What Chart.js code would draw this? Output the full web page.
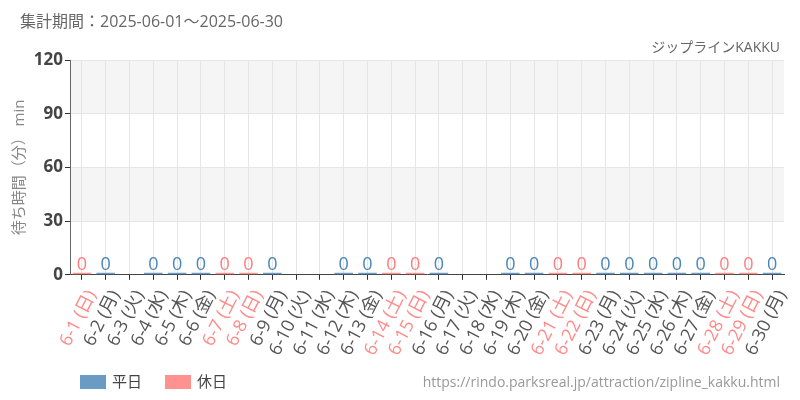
<!DOCTYPE html>
<html>
<head>
<meta charset="utf-8">
<script src="https://cdn.jsdelivr.net/npm/chart.js@4"></script>
<style>
  html,body{margin:0;padding:0;background:#fff;}
  #wrap{width:800px;height:400px;position:relative;}
</style>
</head>
<body>
<div id="wrap"><canvas id="chart" width="800" height="400"></canvas></div>
<script>
const FONT = '"Open Sans","Noto Sans CJK JP",sans-serif';

// data
const days = ['6-1','6-2','6-3','6-4','6-5','6-6','6-7','6-8','6-9','6-10',
  '6-11','6-12','6-13','6-14','6-15','6-16','6-17','6-18','6-19','6-20',
  '6-21','6-22','6-23','6-24','6-25','6-26','6-27','6-28','6-29','6-30'];
const dow = ['日','月','火','水','木','金','土','日','月','火',
  '水','木','金','土','日','月','火','水','木','金',
  '土','日','月','火','水','木','金','土','日','月'];
const holiday = [1,0,0,0,0,0,1,1,0,0, 0,0,0,1,1,0,0,0,0,0, 1,1,0,0,0,0,0,1,1,0];
const waitMin = [0,0,null,0,0,0,0,0,0,null, null,0,0,0,0,0,null,null,0,0, 0,0,0,0,0,0,0,0,0,0];
const yTicks = [0,30,60,90,120];

const BLUE = '#6a9bc4', PINK = '#ff9191';
const BLUE_TXT = '#4a87ba', PINK_TXT = '#ff7d7d';

const labels = days.map((d,i)=>d+' ('+dow[i]+')');
const weekdayData = waitMin.map((v,i)=>holiday[i] ? null : v);
const holidayData = waitMin.map((v,i)=>holiday[i] ? v : null);

const extras = {
  id:'extras',
  beforeDraw(chart){
    const {ctx, chartArea:a, scales:{y}} = chart;
    ctx.save();
    ctx.fillStyle = '#f5f5f5';
    [[30,60],[90,120]].forEach(([lo,hi])=>{
      const t = y.getPixelForValue(hi), b = y.getPixelForValue(lo);
      ctx.fillRect(a.left, t, a.right-a.left, b-t);
    });
    ctx.restore();
  },
  afterDraw(chart){
    const {ctx} = chart;
    ctx.save();
    ctx.textBaseline = 'middle';
    ctx.fillStyle = '#666';
    ctx.font = '16px '+FONT;
    ctx.textAlign = 'left';
    ctx.fillText('集計期間：2025-06-01～2025-06-30', 20, 22);
    ctx.font = '14px '+FONT;
    ctx.textAlign = 'right';
    ctx.fillText('ジップラインKAKKU', 780, 48);
    ctx.fillStyle = '#999';
    ctx.fillText('https://rindo.parksreal.jp/attraction/zipline_kakku.html', 780, 383);
    // legend
    ctx.textAlign = 'left';
    ctx.font = '15px '+FONT;
    let lx = 80;
    chart.data.datasets.forEach(ds=>{
      ctx.fillStyle = ds.backgroundColor;
      ctx.fillRect(lx, 375, 26, 14);
      ctx.fillStyle = '#444';
      ctx.fillText(ds.label, lx+32, 383);
      lx += 85;
    });
    // value labels
    ctx.font = '18px '+FONT;
    ctx.textAlign = 'center';
    ctx.textBaseline = 'bottom';
    chart.data.datasets.forEach((ds,di)=>{
      const meta = chart.getDatasetMeta(di);
      meta.data.forEach((bar,i)=>{
        const v = ds.data[i];
        if(v===null||v===undefined) return;
        ctx.fillStyle = di===0 ? BLUE_TXT : PINK_TXT;
        ctx.fillText(String(v), bar.x, bar.y+1);
      });
    });
    ctx.restore();
  }
};

new Chart(document.getElementById('chart'),{
  type:'bar',
  data:{
    labels,
    datasets:[
      {label:'平日', data:weekdayData, backgroundColor:BLUE, minBarLength:2, barPercentage:0.78, categoryPercentage:1},
      {label:'休日', data:holidayData, backgroundColor:PINK, minBarLength:2, barPercentage:0.78, categoryPercentage:1}
    ]
  },
  options:{
    responsive:false,
    animation:false,
    layout:{padding:{top:60,right:16,left:8,bottom:34}},
    plugins:{
      legend:{display:false},
      tooltip:{enabled:false}
    },
    scales:{
      x:{
        stacked:true,
        grid:{offset:false, color:'#e6e6e6', tickColor:'#333', tickLength:5},
        border:{color:'#444'},
        ticks:{
          minRotation:63, maxRotation:63, autoSkip:false, padding:7, labelOffset:10,
          font:{size:18, family:FONT},
          color:ctx=>holiday[ctx.index] ? '#ff8a8a' : '#555'
        }
      },
      y:{
        stacked:true,
        min:0, max:120,
        afterBuildTicks(axis){ axis.ticks = yTicks.map(v=>({value:v})); },
        afterFit(axis){ axis.width = 62; },
        grid:{color:'#e6e6e6', tickColor:'#333', tickLength:5},
        border:{color:'#666'},
        ticks:{font:{size:17, weight:'bold', family:FONT}, color:'#444', padding:2},
        title:{display:true, text:'待ち時間（分） min', color:'#888', font:{size:15, family:FONT}, padding:{top:3,bottom:0}}
      }
    }
  },
  plugins:[extras]
});
</script>
</body>
</html>
